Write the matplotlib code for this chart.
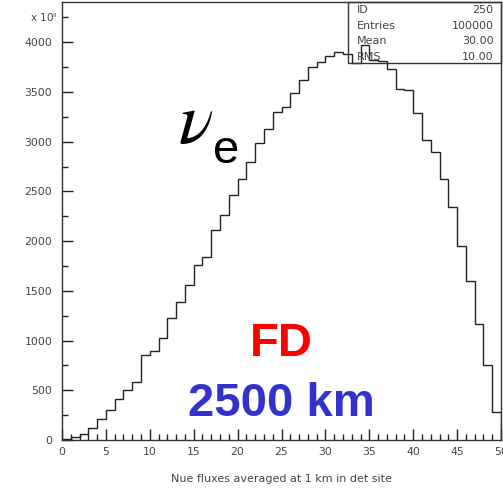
import matplotlib
matplotlib.use('Agg')
import matplotlib.pyplot as plt
import numpy as np

plt.rcParams['font.family'] = ['DejaVu Sans']
plt.rcParams['mathtext.fontset'] = 'stix'

# bin contents (units of 1e8), 50 bins of width 1 from 0 to 50
counts = [8, 32, 62, 125, 210, 305, 410, 500, 588, 850,
          900, 1022, 1230, 1385, 1562, 1755, 1845, 2112, 2262, 2460,
          2625, 2792, 2985, 3125, 3300, 3350, 3490, 3625, 3750, 3805,
          3865, 3900, 3880, 3790, 3970, 3820, 3810, 3730, 3530, 3515,
          3285, 3018, 2892, 2620, 2343, 1955, 1600, 1170, 757, 280]
edges = np.arange(0, 51, 1)

stat_names = ['ID', 'Entries', 'Mean', 'RMS']
stat_values = ['250', '100000', '30.00', '10.00']

gray = '#444444'

fig = plt.figure(figsize=(5.03, 4.95), dpi=100)
ax = fig.add_axes([62/503, 55/495, 439/503, 437.5/495])

ax.stairs(counts, edges, color='#222222', lw=1)

ax.set_xlim(0, 50)
ax.set_ylim(0, 4400)
ax.set_xticks(np.arange(0, 51, 5))
ax.set_xticks(np.arange(0, 51, 1), minor=True)
ax.set_yticks(np.arange(0, 4001, 500))
ax.set_yticks(np.arange(0, 4401, 250), minor=True)
ax.tick_params(which='both', direction='in', colors='#222222', labelcolor=gray, labelsize=7.8)
ax.tick_params(which='major', length=8, width=1)
ax.tick_params(which='minor', length=4.5, width=1)
ax.tick_params(axis='y', pad=7)
ax.tick_params(axis='x', pad=5)
ax.tick_params(top=False, right=False, which='both')
for s in ax.spines.values():
    s.set_color('#333333')
    s.set_linewidth(1)

ax.set_xlabel('Nue fluxes averaged at 1 km in det site', fontsize=8, color=gray, labelpad=12)

fig.text(58/503, 1 - 18/495, r'x 10$^{8}$', fontsize=7.5, color=gray, ha='right', va='center')

# stats box
bx0 = (347.7 - 62) / 439
by0 = (440 - 63.3) / 437.5
ax.add_patch(plt.Rectangle((bx0, by0), 1 - bx0, 1 - by0, transform=ax.transAxes,
                           fill=False, edgecolor='#333333', lw=1, clip_on=False))
for i in range(len(stat_names)):
    py = 10.5 + i * 15.5
    yy = (440 - py) / 437.5
    ax.text((356.7 - 62) / 439, yy, stat_names[i], transform=ax.transAxes,
            fontsize=8, color=gray, va='center', ha='left')
    ax.text((493.5 - 62) / 439, yy, stat_values[i], transform=ax.transAxes,
            fontsize=8, color=gray, va='center', ha='right')

# labels inside plot
ax.text((178 - 62) / 8.78, 2985, r'$\nu$', fontsize=52, color='black',
        ha='left', va='baseline')
ax.text((213 - 62) / 8.78, 2790, 'e', fontsize=34, color='black', ha='left', va='baseline',
        family='Liberation Sans')
ax.text(25.0, 840, 'FD', fontsize=34, fontweight='bold', color='#ff0000', ha='center', va='baseline',
        family='Liberation Sans')
ax.text(25.0, 240, '2500 km', fontsize=34, fontweight='bold', color='#3333cc', ha='center', va='baseline',
        family='Liberation Sans')

fig.savefig('out.png', dpi=100)
